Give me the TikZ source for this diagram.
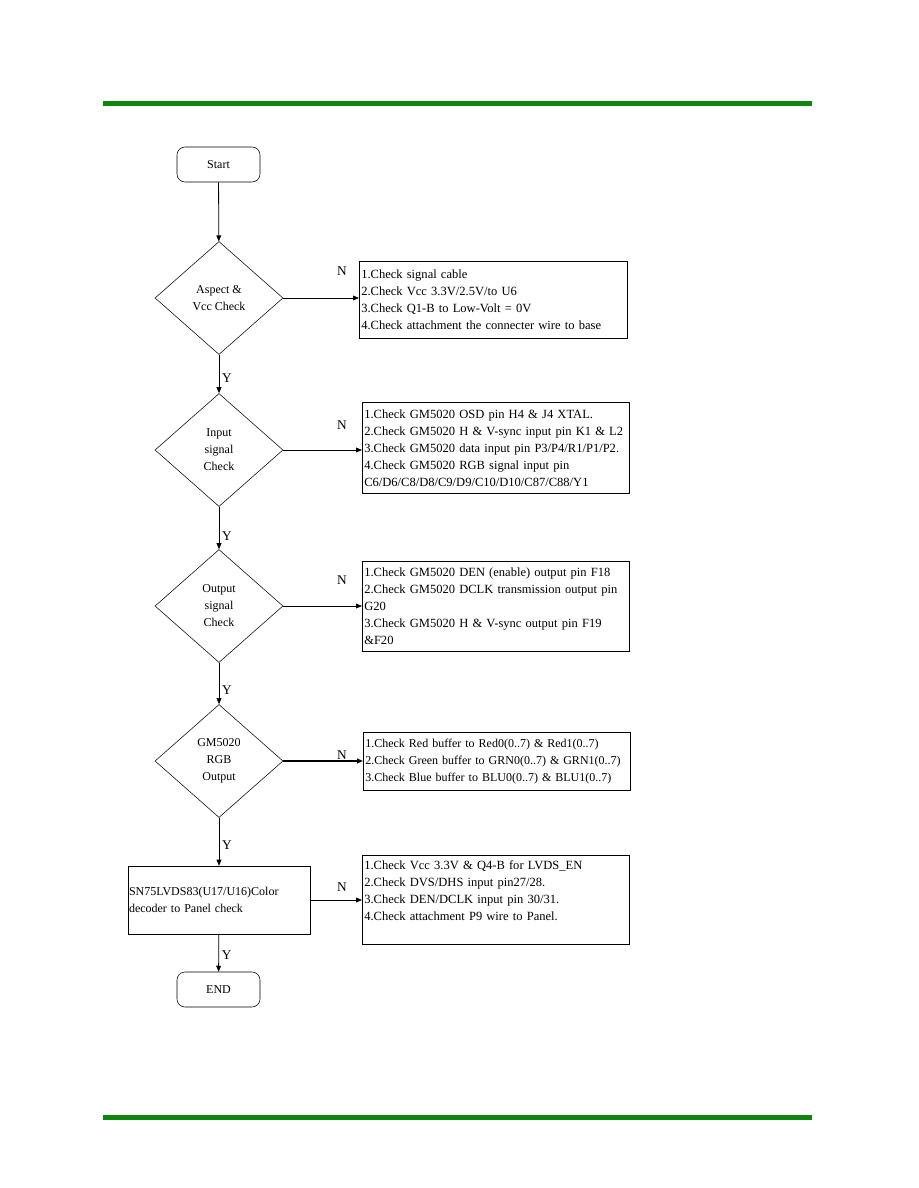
\documentclass[tikz,border=0pt]{standalone}
\usepackage{fontspec}
\setmainfont{Liberation Serif}
\usepackage{tikz}
\usetikzlibrary{arrows.meta,shapes.geometric}
\definecolor{pagegreen}{HTML}{0E850E}

\begin{document}
\begin{tikzpicture}[x=0.75pt,y=-0.75pt,
  every node/.style={font=\fontsize{9}{12.75}\selectfont},
  terminal/.style={draw,rounded corners=6pt,minimum width=62.25pt,minimum height=26.25pt},
  decision/.style={draw,diamond,aspect=1.13,minimum width=96pt,minimum height=84.75pt,inner sep=0pt,align=center},
  checkbox/.style={draw,anchor=north west,align=left,inner xsep=1.5pt,inner ysep=0pt,text width=197pt,
    font=\fontsize{9.4}{12.75}\selectfont},
  flow/.style={-{Triangle[length=4.5pt,width=3.6pt]},line width=0.6pt},
  ylab/.style={right,inner sep=2pt,font=\fontsize{10}{12}\selectfont},
  nlab/.style={font=\fontsize{10}{12}\selectfont}]
  \useasboundingbox (0,0) rectangle (918,1188);
  \draw[pagegreen,line width=3.75pt] (103,103)--(812,103);
  \draw[pagegreen,line width=3.75pt] (103,1117)--(812,1117);

  \node[terminal] (start) at (218.5,164.5) {Start};
  \node[decision] (d1) at (219,298) {Aspect \&\\Vcc Check};
  \node[decision] (d2) at (219,450) {Input\\signal\\Check};
  \node[decision] (d3) at (219,606) {Output\\signal\\Check};
  \node[decision] (d4) at (219,761) {GM5020\\RGB\\Output};
  \node[draw,minimum height=51pt,align=left,text width=135pt,inner xsep=0.75pt] (panel) at (219,900)
    {SN75LVDS83(U17/U16)Color\\decoder to Panel check};
  \node[terminal] (end) at (218.5,989.5) {END};

  \node[checkbox,minimum height=57.75pt,text width=198pt] (b1) at (359,261)
    {1.Check signal cable\\2.Check Vcc 3.3V/2.5V/to U6\\3.Check Q1-B to Low-Volt = 0V\\4.Check attachment the connecter wire to base};
  \node[checkbox,minimum height=68.25pt] (b2) at (362,402)
    {1.Check GM5020 OSD pin H4 \& J4 XTAL.\\2.Check GM5020 H \& V-sync input pin K1 \& L2\\3.Check GM5020 data input pin P3/P4/R1/P1/P2.\\4.Check GM5020 RGB signal input pin\\C6/D6/C8/D8/C9/D9/C10/D10/C87/C88/Y1};
  \node[checkbox,minimum height=67.5pt] (b3) at (362,561)
    {1.Check GM5020 DEN (enable) output pin F18\\2.Check GM5020 DCLK transmission output pin\\G20\\3.Check GM5020 H \& V-sync output pin F19\\\&F20};
  \node[checkbox,minimum height=43.5pt,font=\fontsize{9}{12.75}\selectfont] (b4) at (363,732)
    {1.Check Red buffer to Red0(0..7) \& Red1(0..7)\\2.Check Green buffer to GRN0(0..7) \& GRN1(0..7)\\3.Check Blue buffer to BLU0(0..7) \& BLU1(0..7)};
  \node[checkbox,minimum height=66.75pt,text depth=52pt] (b5) at (362,855)
    {1.Check Vcc 3.3V \& Q4-B for LVDS\_EN\\2.Check DVS/DHS input pin27/28.\\3.Check DEN/DCLK input pin 30/31.\\4.Check attachment P9 wire to Panel.};

  \draw[flow] (start) -- (d1);
  \draw[flow] (d1) -- node[ylab,pos=0.62] {Y} (d2);
  \draw[flow] (d2) -- node[ylab,pos=0.7] {Y} (d3);
  \draw[flow] (d3) -- node[ylab,pos=0.67] {Y} (d4);
  \draw[flow] (d4) -- node[ylab,pos=0.56] {Y} (panel);
  \draw[flow] (panel) -- node[ylab,pos=0.55] {Y} (end);

  \draw[flow] (d1.east) -- (d1.east -| b1.west);
  \draw[flow] (d2.east) -- (d2.east -| b2.west);
  \draw[flow] (d3.east) -- (d3.east -| b3.west);
  \draw[flow,line width=1.3pt] (d4.east) -- (d4.east -| b4.west);
  \draw[flow] (panel.east) -- (panel.east -| b5.west);

  \node[nlab] (n1) at (342,271) {N};
  \node[nlab] (n2) at (342,425) {N};
  \node[nlab] (n3) at (342,580) {N};
  \node[nlab] (n4) at (342,755) {N};
  \node[nlab] (n5) at (342,887) {N};
\end{tikzpicture}
\end{document}
